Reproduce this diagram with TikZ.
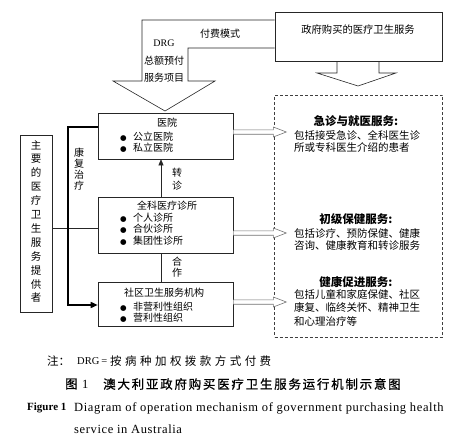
\documentclass[tikz,border=0pt]{standalone}
\usepackage{fontspec}
\setmainfont{Liberation Serif}
\newfontfamily\cjk{Noto Sans CJK SC}
\newfontfamily\dejavu{DejaVu Sans}
\newfontfamily\cjkls[LetterSpace=30]{Noto Sans CJK SC}
\newfontfamily\cjkt[LetterSpace=14, FakeBold=0.8]{Noto Sans CJK SC}
\newfontfamily\cjkfb[FakeBold=0.8]{Noto Sans CJK SC}
\newfontfamily\enls[LetterSpace=5]{Liberation Serif}
\usetikzlibrary{arrows.meta}
\newcommand\mybul{{\dejavu\fontsize{7.5}{7.5}\selectfont ●}}
\tikzset{
  box/.style={draw=black!85, line width=0.6pt, inner sep=0pt},
  dbox/.style={draw=black!75, line width=0.6pt, dash pattern=on 3pt off 2pt, inner sep=0pt},
  ln/.style={draw=black!85, line width=0.6pt},
  thickln/.style={draw=black, line width=1.5pt},
  hollow/.style={draw=black!55, line width=0.6pt, fill=white},
  txt/.style={inner sep=0pt, font=\cjk\fontsize{10}{12}\selectfont},
  rtxt/.style={inner sep=0pt, anchor=west, font=\cjk\fontsize{10.5}{12}\selectfont},
  head/.style={inner sep=0pt, font=\cjk\bfseries\fontsize{11.5}{12}\selectfont},
  bul/.style={inner sep=0pt, anchor=west, font=\cjk\fontsize{10}{12}\selectfont},
  tip/.style={-{Triangle[length=6pt,width=5pt]}},
}
\begin{document}
\begin{tikzpicture}[x=1pt,y=-1pt]
\useasboundingbox (0,0) rectangle (466,444);
% boxes
\node[box, minimum width=167pt, minimum height=49pt] (gov) at (358.5,36.5) {};
\node[txt, font=\cjk\fontsize{10.3}{12}\selectfont] (govt) at (358,30) {政府购买的医疗卫生服务};
\node[dbox, minimum width=168pt, minimum height=242pt] (svc) at (358.5,216) {};
\node[box, minimum width=135pt, minimum height=46pt] (hosp) at (165.5,136) {};
\node[box, minimum width=135pt, minimum height=56pt] (gp) at (165.5,225) {};
\node[box, minimum width=135pt, minimum height=44pt] (comm) at (165.5,304) {};
\node[box, minimum width=32pt, minimum height=177pt] (prov) at (36,223.5) {};
% provider text
\node[txt, align=center, font=\cjk\fontsize{10.5}{13.9}\selectfont] (provt) at (36,221.5) {主\\要\\的\\医\\疗\\卫\\生\\服\\务\\提\\供\\者};
% hospital
\node[txt] (hospt) at (167,123) {医院};
\node[bul] (h1) at (120,137) {\makebox[13pt][l]{\mybul}公立医院};
\node[bul] (h2) at (120,148) {\makebox[13pt][l]{\mybul}私立医院};
% gp
\node[txt] (gpt) at (167,206) {全科医疗诊所};
\node[bul] (g1) at (120,218) {\makebox[13pt][l]{\mybul}个人诊所};
\node[bul] (g2) at (120,229) {\makebox[13pt][l]{\mybul}合伙诊所};
\node[bul] (g3) at (120,241) {\makebox[13pt][l]{\mybul}集团性诊所};
% community
\node[txt] (commt) at (164,293) {社区卫生服务机构};
\node[bul] (c1) at (120,307) {\makebox[13pt][l]{\mybul}非营利性组织};
\node[bul] (c2) at (120,317.5) {\makebox[13pt][l]{\mybul}营利性组织};
% service texts
\node[head] (s1h) at (356,121) {急诊与就医服务:};
\node[rtxt] (s1a) at (294,135) {包括接受急诊、全科医生诊};
\node[rtxt] (s1b) at (294,147.5) {所或专科医生介绍的患者};
\node[head] (s2h) at (356,219) {初级保健服务:};
\node[rtxt] (s2a) at (294,233) {包括诊疗、预防保健、健康};
\node[rtxt] (s2b) at (294,245.5) {咨询、健康教育和转诊服务};
\node[head] (s3h) at (356,282) {健康促进服务:};
\node[rtxt] (s3a) at (294,294) {包括儿童和家庭保健、社区};
\node[rtxt] (s3b) at (294,307.5) {康复、临终关怀、精神卫生};
\node[rtxt] (s3c) at (294,321) {和心理治疗等};
% big bent arrow
\coordinate (b20) at (0,20);
\coordinate (b48) at (0,48);
\draw[ln, line join=miter] (gov.west|-b20) -- (142,20) -- (142,81) -- (113,81) -- (165,111) -- (215,81) -- (188,81) -- (188,48) -- (gov.west|-b48);
\node[txt] (pay) at (220,34) {付费模式};
\node[inner sep=0pt, font=\fontsize{10}{12}\selectfont] (drg) at (164,43) {DRG};
\node[txt] (tot) at (164,61) {总额预付};
\node[txt] (item) at (164,78) {服务项目};
% government arrow
\draw[ln, line join=miter] (gov.south-|337,0) -- (337,73) -- (317,73) -- (358,86) -- (396,73) -- (379,73) -- (gov.south-|379,0);
% referral
\coordinate (xc) at (161,0);
\draw[ln, tip] (gp.north-|xc) -- (hosp.south-|xc);
\node[txt, align=center, font=\cjk\fontsize{10}{12.7}\selectfont] (ref) at (177,179.5) {转\\诊};
\draw[ln] (gp.south-|xc) -- (comm.north-|xc);
\node[txt, align=center, font=\cjk\fontsize{10}{10.6}\selectfont] (coop) at (177,267) {合\\作};
% provider links
\coordinate (pm) at (0,228);
\draw[ln] (prov.east|-pm) -- (gp.west|-pm);
\coordinate (thtop) at (68,127);
\coordinate (thbot) at (68,305);
\draw[thickln, -{Triangle[length=7pt,width=6pt]}] (hosp.west|-thtop) -- (thtop) -- (thbot) -- (comm.west|-thbot);
\node[txt, align=center, font=\cjk\fontsize{10}{11}\selectfont] (rehab) at (79,169.5) {康\\复\\治\\疗};
% hollow arrows
\coordinate (a1) at (0,132);
\coordinate (a2) at (0,233);
\coordinate (a3) at (0,302);
\foreach \b/\a in {hosp/a1, gp/a2, comm/a3}{
  \draw[hollow, line join=miter] (\b.east|-\a) ++(0,-2.2) -- ++(40,0) -- ++(0,-2.8) -- ++(13,5) -- ++(-13,5) -- ++(0,-2.8) -- ++(-40,0);
}
% captions
\node[inner sep=0pt, anchor=west, font=\cjk\fontsize{11.5}{12}\selectfont] (n1) at (47,361) {注：};
\node[inner sep=0pt, anchor=west, font=\fontsize{10.5}{12}\selectfont] (n2) at (77,361) {DRG\hspace{2pt}=};
\node[inner sep=0pt, anchor=west, font=\cjkls\fontsize{11.5}{12}\selectfont] (n3) at (110,361) {按病种加权拨款方式付费};
\node[inner sep=0pt, anchor=west, font=\cjkfb\fontsize{12.5}{13}\selectfont] (t1) at (65,384) {图};
\node[inner sep=0pt, anchor=west, font=\fontsize{12.5}{13}\selectfont] (t2) at (82,384) {1};
\node[inner sep=0pt, anchor=west, font=\cjkt\fontsize{12.5}{13}\selectfont] (t3) at (103,384) {澳大利亚政府购买医疗卫生服务运行机制示意图};
\node[inner sep=0pt, anchor=west, font=\bfseries\fontsize{11}{13}\selectfont] (fig) at (27,408) {Figure 1};
\node[inner sep=0pt, anchor=west, font=\enls\fontsize{12.5}{13}\selectfont] (cap1) at (74,408) {Diagram of operation mechanism of government purchasing health};
\node[inner sep=0pt, anchor=west, font=\enls\fontsize{12.5}{13}\selectfont] (cap2) at (74,429) {service in Australia};
\end{tikzpicture}
\end{document}
